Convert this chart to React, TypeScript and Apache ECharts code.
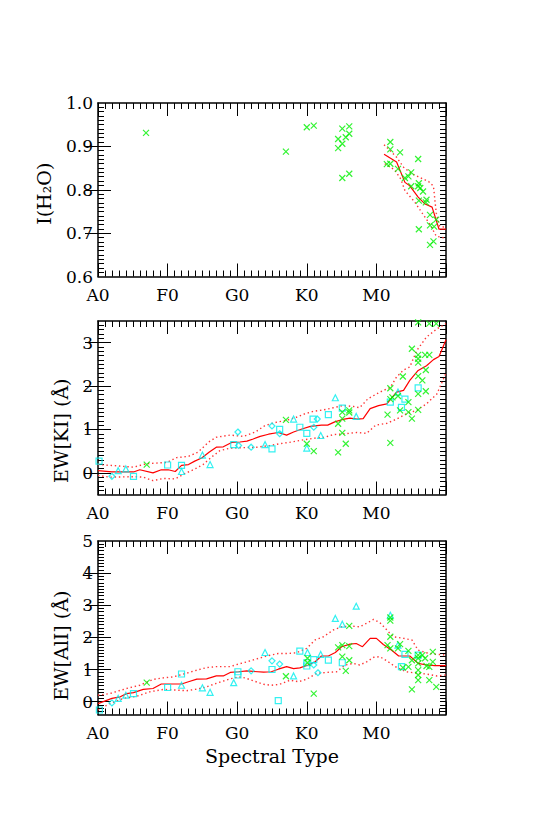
import React, { useEffect, useRef } from 'react';
import * as echarts from 'echarts';

// ---------- tick labels ----------
const spectralValues = [0, 10, 20, 30, 40];
const spectralLabels = ['A0', 'F0', 'G0', 'K0', 'M0'];
const h2oTicks = [0.6, 0.7, 0.8, 0.9, 1.0];
const kiTicks = [0, 1, 2, 3];
const alTicks = [0, 1, 2, 3, 4, 5];

// ---------- Panel 1 : I(H2O) ----------
const h2oCross: number[][] = [
  [6.9, 0.931], [27.0, 0.888], [30.0, 0.944], [31.0, 0.948], [34.5, 0.917], [34.5, 0.896],
  [35.1, 0.941], [35.1, 0.906], [35.6, 0.921], [36.1, 0.946], [36.1, 0.929], [35.1, 0.827],
  [36.1, 0.837], [41.5, 0.859], [42.0, 0.860], [42.0, 0.910], [42.0, 0.893], [43.4, 0.886],
  [43.1, 0.848], [44.6, 0.831], [44.1, 0.827], [45.0, 0.840], [45.0, 0.808], [46.0, 0.871],
  [46.1, 0.815], [46.3, 0.804], [46.7, 0.796], [46.1, 0.775], [47.2, 0.777], [47.1, 0.771],
  [47.7, 0.742], [47.7, 0.718], [48.3, 0.715], [46.1, 0.709], [48.6, 0.731], [47.7, 0.673],
  [48.2, 0.681], [46.0, 0.808],
];
const h2oMean: number[][] = [
  [41.1, 0.882], [42.9, 0.864], [44.1, 0.817], [44.8, 0.809], [46.0, 0.783], [47.0, 0.767],
  [48.0, 0.760], [49.0, 0.709], [50, 0.709],
];
const h2oUpper: number[][] = [
  [41.1, 0.904], [42.9, 0.875], [43.9, 0.852], [45.0, 0.838], [46.0, 0.830], [47.5, 0.819],
  [48.2, 0.808], [48.6, 0.746], [49.1, 0.716], [50, 0.713],
];
const h2oLower: number[][] = [
  [41.2, 0.860], [42.6, 0.846], [43.5, 0.825], [44.1, 0.798], [45.5, 0.772], [46.5, 0.748],
  [47.7, 0.720], [48.6, 0.693], [50, 0.688],
];

// ---------- Panel 2 : EW[KI] ----------
const kiSquare: number[][] = [
  [0.15, 0.27], [5.1, -0.08], [10.0, 0.18], [12.0, 0.17], [19.5, 0.65], [25.0, 0.55],
  [26.1, 1.00], [29.0, 1.05], [30.0, 0.91], [30.9, 1.24], [33.1, 1.34], [35.1, 1.49],
  [42.0, 1.63], [43.6, 1.51], [44.1, 1.70], [46.0, 1.96],
];
const kiTriangle: number[][] = [
  [2.9, 0.05], [4.0, 0.09], [12.0, 0.03], [15.0, 0.41], [16.1, 0.19], [24.0, 0.65],
  [28.1, 1.24], [30.0, 0.57], [32.0, 0.86], [34.1, 1.73], [37.1, 1.30], [43.1, 1.86],
];
const kiDiamond: number[][] = [
  [2.0, -0.08], [20.1, 0.94], [20.2, 0.63], [22.0, 0.59], [25.0, 1.08], [26.1, 0.90],
  [31.5, 1.24], [31.0, 1.05],
];
const kiCross: number[][] = [
  [7.0, 0.19], [27.0, 1.22], [30.0, 0.67], [31.0, 0.50], [34.5, 1.13], [34.5, 0.47],
  [35.1, 1.40], [35.1, 1.25], [35.1, 0.92], [35.6, 0.67], [36.1, 1.44], [36.1, 1.39],
  [41.6, 1.34], [42.0, 0.69], [42.0, 1.95], [42.0, 1.70], [42.3, 1.74], [43.1, 1.77],
  [43.4, 1.44], [43.8, 2.22], [44.6, 1.63], [44.6, 1.40], [45.1, 1.25], [45.1, 2.86],
  [46.0, 2.72], [46.0, 2.63], [46.0, 2.54], [46.0, 2.23], [46.0, 1.82], [46.0, 1.45],
  [46.6, 2.13], [47.0, 2.72], [47.6, 2.72], [47.1, 2.37], [47.1, 1.88], [46.0, 3.47],
  [47.6, 3.44], [48.6, 3.44],
];
const kiMean: number[][] = [
  [0, 0.05], [2.0, 0.02], [5.1, 0.02], [6.0, 0.07], [7.9, 0.0], [9.1, 0.07], [10.1, 0.07],
  [11.1, 0.03], [12.0, 0.17], [13.0, 0.19], [13.9, 0.27], [14.9, 0.34], [16.0, 0.48],
  [17.0, 0.59], [18.0, 0.60], [19.2, 0.70], [20.4, 0.71], [21.4, 0.73], [22.3, 0.78],
  [23.3, 0.84], [24.5, 0.89], [25.9, 0.93], [27.1, 0.87], [28.1, 0.94], [29.3, 1.01],
  [30.5, 1.07], [32.1, 1.10], [33.0, 1.10], [34.1, 1.18], [35.2, 1.23], [36.2, 1.26],
  [37.2, 1.24], [38.1, 1.25], [39.1, 1.48], [40.3, 1.55], [41.5, 1.59], [42.2, 1.73],
  [42.9, 1.86], [43.9, 1.90], [44.8, 2.13], [46.0, 2.36], [47.2, 2.47], [48.2, 2.61],
  [49.0, 2.68], [50, 3.07],
];
const kiUpper: number[][] = [
  [0, 0.19], [2.0, 0.17], [5.1, 0.13], [7.0, 0.21], [9.9, 0.24], [11.3, 0.35], [13.0, 0.38],
  [14.4, 0.48], [15.9, 0.71], [17.0, 0.82], [19.0, 0.87], [20.9, 0.84], [22.6, 0.94],
  [24.0, 1.09], [25.7, 1.17], [27.1, 1.21], [28.5, 1.28], [29.7, 1.36], [31.0, 1.42],
  [32.4, 1.45], [33.8, 1.50], [35.2, 1.55], [36.7, 1.53], [37.6, 1.50], [38.8, 1.71],
  [40.5, 1.86], [42.0, 1.97], [42.9, 2.21], [43.9, 2.37], [44.8, 2.44], [45.8, 2.82],
  [47.2, 3.13], [48.7, 3.32], [50, 3.44],
];
const kiLower: number[][] = [
  [0, -0.06], [1.7, -0.10], [5.1, -0.09], [6.5, -0.10], [7.9, -0.18], [9.4, -0.13],
  [11.1, -0.14], [12.3, -0.03], [13.7, 0.07], [15.1, 0.19], [16.3, 0.36], [17.5, 0.51],
  [19.0, 0.57], [20.9, 0.58], [22.8, 0.59], [24.7, 0.63], [26.1, 0.67], [27.8, 0.71],
  [29.5, 0.76], [31.2, 0.80], [32.6, 0.82], [33.8, 0.88], [35.5, 0.90], [37.2, 0.93],
  [38.6, 0.91], [39.9, 1.10], [41.5, 1.14], [42.9, 1.24], [44.3, 1.36], [45.8, 1.44],
  [47.2, 1.59], [48.7, 1.82], [50, 2.30],
];

// ---------- Panel 3 : EW[AlI] ----------
const alSquare: number[][] = [
  [0.2, -0.26], [5.1, 0.25], [10.0, 0.44], [12.0, 0.86], [20.1, 0.93], [20.1, 0.83],
  [25.0, 1.00], [25.9, 0.03], [29.0, 1.57], [30.0, 1.21], [30.0, 1.11], [31.0, 1.31],
  [33.1, 1.29], [35.1, 1.21], [43.6, 1.09], [44.1, 1.47], [46.0, 1.45],
];
const alTriangle: number[][] = [
  [2.9, 0.10], [4.0, 0.20], [12.0, 0.51], [15.0, 0.43], [16.1, 0.29], [19.5, 0.59],
  [24.0, 1.53], [28.1, 0.80], [30.1, 1.53], [32.0, 1.47], [34.1, 2.59], [35.1, 2.41],
  [37.1, 2.97], [42.0, 2.69], [43.1, 1.76],
];
const alDiamond: number[][] = [
  [2.0, -0.04], [22.0, 0.96], [25.0, 1.27], [26.1, 1.17], [31.0, 1.14], [31.6, 0.90],
];
const alCross: number[][] = [
  [7.0, 0.59], [27.0, 0.79], [30.1, 1.35], [30.1, 1.21], [31.0, 0.25], [34.5, 1.69],
  [35.1, 1.76], [35.1, 1.40], [35.6, 0.96], [36.1, 2.36], [36.1, 1.73], [36.1, 1.29],
  [41.6, 1.76], [42.0, 2.62], [42.0, 2.52], [42.0, 2.02], [42.0, 1.66], [43.1, 1.66],
  [43.4, 1.79], [43.8, 1.06], [44.6, 1.08], [44.6, 1.58], [45.1, 0.38], [45.1, 1.29],
  [46.0, 1.45], [46.0, 1.35], [46.0, 1.19], [46.0, 0.98], [46.0, 0.83], [46.0, 0.67],
  [46.6, 1.45], [47.0, 1.35], [47.2, 1.11], [47.6, 1.08], [47.6, 0.67], [48.1, 1.55],
  [48.6, 0.46], [48.1, 1.24],
];
const alMean: number[][] = [
  [0, -0.06], [2.0, 0.10], [3.2, 0.15], [4.1, 0.25], [5.1, 0.28], [6.5, 0.38], [7.9, 0.41],
  [9.1, 0.55], [10.3, 0.55], [12.0, 0.55], [13.0, 0.62], [14.2, 0.70], [15.6, 0.71],
  [17.0, 0.80], [18.0, 0.80], [19.0, 0.91], [20.2, 0.93], [21.4, 0.96], [22.3, 0.94],
  [23.8, 0.92], [24.9, 0.93], [25.9, 1.01], [27.1, 1.09], [28.1, 1.03], [29.0, 1.05],
  [30.2, 1.14], [31.2, 1.24], [32.1, 1.42], [33.1, 1.42], [34.1, 1.53], [35.0, 1.71],
  [36.2, 1.79], [37.1, 1.81], [38.0, 1.71], [39.1, 1.97], [40.0, 1.97], [41.0, 1.78],
  [42.2, 1.60], [43.2, 1.42], [44.8, 1.42], [46.0, 1.19], [47.2, 1.14], [48.4, 1.12],
  [50, 1.12],
];
const alUpper: number[][] = [
  [0, 0.20], [1.7, 0.25], [4.1, 0.41], [6.0, 0.51], [7.9, 0.69], [9.4, 0.74], [10.8, 0.77],
  [12.3, 0.86], [14.2, 0.98], [15.6, 1.06], [17.0, 1.09], [19.0, 1.09], [20.2, 1.17],
  [21.4, 1.24], [22.8, 1.33], [24.2, 1.42], [25.9, 1.50], [27.3, 1.50], [28.5, 1.52],
  [30.0, 1.66], [31.2, 1.92], [32.4, 2.02], [33.8, 2.23], [35.0, 2.33], [36.4, 2.35],
  [37.6, 2.33], [38.6, 2.44], [39.6, 2.56], [40.5, 2.46], [41.5, 2.23], [42.4, 2.02],
  [43.9, 1.97], [45.1, 1.92], [46.0, 1.60], [47.2, 1.52], [48.4, 1.48], [50, 1.45],
];
const alLower: number[][] = [
  [0, -0.26], [1.7, -0.06], [3.6, 0.10], [5.6, 0.17], [7.5, 0.31], [9.4, 0.38], [11.3, 0.36],
  [12.7, 0.34], [14.2, 0.39], [15.6, 0.46], [17.0, 0.57], [19.0, 0.71], [20.2, 0.77],
  [21.1, 0.74], [22.3, 0.65], [23.8, 0.54], [24.9, 0.51], [26.1, 0.54], [27.6, 0.67],
  [28.8, 0.62], [30.0, 0.70], [31.4, 0.88], [32.9, 0.91], [34.3, 0.93], [35.5, 1.14],
  [36.7, 1.19], [37.6, 1.14], [38.6, 1.24], [39.6, 1.38], [40.5, 1.40], [41.7, 1.24],
  [42.7, 1.09], [44.3, 0.93], [46.0, 0.88], [47.2, 0.86], [48.7, 0.80], [50, 0.83],
];

// ---------- styling ----------
const FONT = 'DejaVu Serif';
const GREEN = '#00f000';
const CYAN = '#00eeee';
const RED = '#ff0000';
const crossSymbol = 'path://M0,0L10,10M10,0L0,10';

const panels = [
  { top: 103, min: 0.6, max: 1.0, minorStep: 0.01, majors: h2oTicks, dec: 1,
    name: 'I(H₂O)', nameGap: 45, namePad: 8 },
  { top: 321, min: -0.5, max: 3.5, minorStep: 0.1, majors: kiTicks, dec: 0,
    name: 'EW[KI] (Å)', nameGap: 28, namePad: 46 },
  { top: 541, min: -0.4, max: 5, minorStep: 0.1, majors: alTicks, dec: 0,
    name: 'EW[AlI] (Å)', nameGap: 28, namePad: 36 },
];

// tick positions between the axis ends (for the short tick marks)
function minorPositions(min: number, max: number, step: number) {
  const out: number[] = [];
  const n = Math.round((max - min) / step);
  for (let k = 1; k < n; k++) out.push(Math.round((min + k * step) * 1000) / 1000);
  return out;
}

function buildOption() {
  const grid: any[] = [];
  const xAxis: any[] = [];
  const yAxis: any[] = [];
  const series: any[] = [];
  const yPrimary: number[] = [];
  const xPrimary: number[] = [];

  panels.forEach((p, i) => {
    grid.push({ left: 98, width: 348, top: p.top, height: 173.5 });
    const xBase = {
      type: 'value', gridIndex: i, min: 0, max: 50, interval: 10,
      axisLine: { show: true, onZero: false, lineStyle: { color: '#000', width: 1.5 } },
      axisTick: { show: true, inside: true, length: 13, lineStyle: { color: '#000', width: 1 } },
      minorTick: { show: true, splitNumber: 10, length: 6, lineStyle: { color: '#000', width: 1 } },
      splitLine: { show: false }, minorSplitLine: { show: false },
    };
    xPrimary.push(xAxis.length);
    xAxis.push({
      ...xBase, position: 'bottom',
      axisLabel: {
        show: true, margin: 10, fontFamily: FONT, fontSize: 17, color: '#000',
        formatter: (v: number) => {
          const r = Math.round(v);
          const k = spectralValues.indexOf(r);
          return Math.abs(v - r) < 1e-6 && k >= 0 ? spectralLabels[k] : '';
        },
      },
      ...(i === 2 ? {
        name: 'Spectral Type', nameLocation: 'middle', nameGap: 32,
        nameTextStyle: { fontFamily: FONT, fontSize: 19, color: '#000' },
      } : {}),
    });
    xAxis.push({ ...xBase, position: 'top', axisLabel: { show: false } });

    const yBase = {
      type: 'value', gridIndex: i, min: p.min, max: p.max,
      splitLine: { show: false }, minorSplitLine: { show: false },
    };
    const minors = minorPositions(p.min, p.max, p.minorStep);
    const innerMajors = p.majors.filter((v) => v > p.min + 1e-9 && v < p.max - 1e-9);
    yPrimary.push(yAxis.length);
    yAxis.push({
      ...yBase, position: 'left',
      axisLine: { show: true, onZero: false, lineStyle: { color: '#000', width: 1.5 } },
      axisTick: { show: true, inside: true, length: 6, lineStyle: { color: '#000', width: 1 }, customValues: minors },
      axisLabel: {
        show: true, margin: 5, fontFamily: FONT, fontSize: 17, color: '#000',
        customValues: p.majors,
        formatter: (v: number) => Number(v).toFixed(p.dec),
      },
      name: p.name, nameLocation: 'middle', nameRotate: 90, nameGap: p.nameGap,
      nameTextStyle: { fontFamily: FONT, fontSize: 19, color: '#000', padding: [0, p.namePad, 0, 0] },
    });
    yAxis.push({
      ...yBase, position: 'right',
      axisLine: { show: true, onZero: false, lineStyle: { color: '#000', width: 1.5 } },
      axisTick: { show: true, inside: true, length: 6, lineStyle: { color: '#000', width: 1 }, customValues: minors },
      axisLabel: { show: false },
    });
    for (const pos of ['left', 'right']) {
      yAxis.push({
        ...yBase, position: pos,
        axisLine: { show: false },
        axisTick: { show: true, inside: true, length: 13, lineStyle: { color: '#000', width: 1 }, customValues: innerMajors },
        axisLabel: { show: false },
      });
    }
  });

  const line = (i: number, data: number[][], dotted: boolean) => ({
    type: 'line', xAxisIndex: xPrimary[i], yAxisIndex: yPrimary[i], data,
    showSymbol: false, symbol: 'none', silent: true, z: 2, clip: true,
    lineStyle: dotted ? { color: '#ff3333', width: 1.4, type: [1.4, 2.8] } : { color: RED, width: 1.2 },
  });
  const scat = (i: number, data: number[][], symbol: string, color: string, size: number) => ({
    type: 'scatter', xAxisIndex: xPrimary[i], yAxisIndex: yPrimary[i], data,
    symbol, symbolSize: size, silent: true, z: 3, clip: false,
    itemStyle: { color: 'transparent', borderColor: color, borderWidth: 1.2 },
  });

  series.push(
    line(0, h2oMean, false), line(0, h2oUpper, true), line(0, h2oLower, true),
    scat(0, h2oCross, crossSymbol, GREEN, 6),
    line(1, kiMean, false), line(1, kiUpper, true), line(1, kiLower, true),
    scat(1, kiSquare, 'rect', CYAN, 6), scat(1, kiTriangle, 'triangle', CYAN, 6),
    scat(1, kiDiamond, 'diamond', CYAN, 6), scat(1, kiCross, crossSymbol, GREEN, 6),
    line(2, alMean, false), line(2, alUpper, true), line(2, alLower, true),
    scat(2, alSquare, 'rect', CYAN, 6), scat(2, alTriangle, 'triangle', CYAN, 6),
    scat(2, alDiamond, 'diamond', CYAN, 6), scat(2, alCross, crossSymbol, GREEN, 6),
  );

  return { animation: false, backgroundColor: '#fff', grid, xAxis, yAxis, series };
}

export default function App() {
  const ref = useRef<HTMLDivElement>(null);
  useEffect(() => {
    if (!ref.current) return;
    const chart = echarts.init(ref.current, undefined, { renderer: 'svg' });
    chart.setOption(buildOption() as any);
    return () => chart.dispose();
  }, []);
  return (
    <div
      ref={ref}
      style={{ position: 'absolute', left: 0, top: 0, width: 545, height: 818, background: '#fff' }}
    />
  );
}
